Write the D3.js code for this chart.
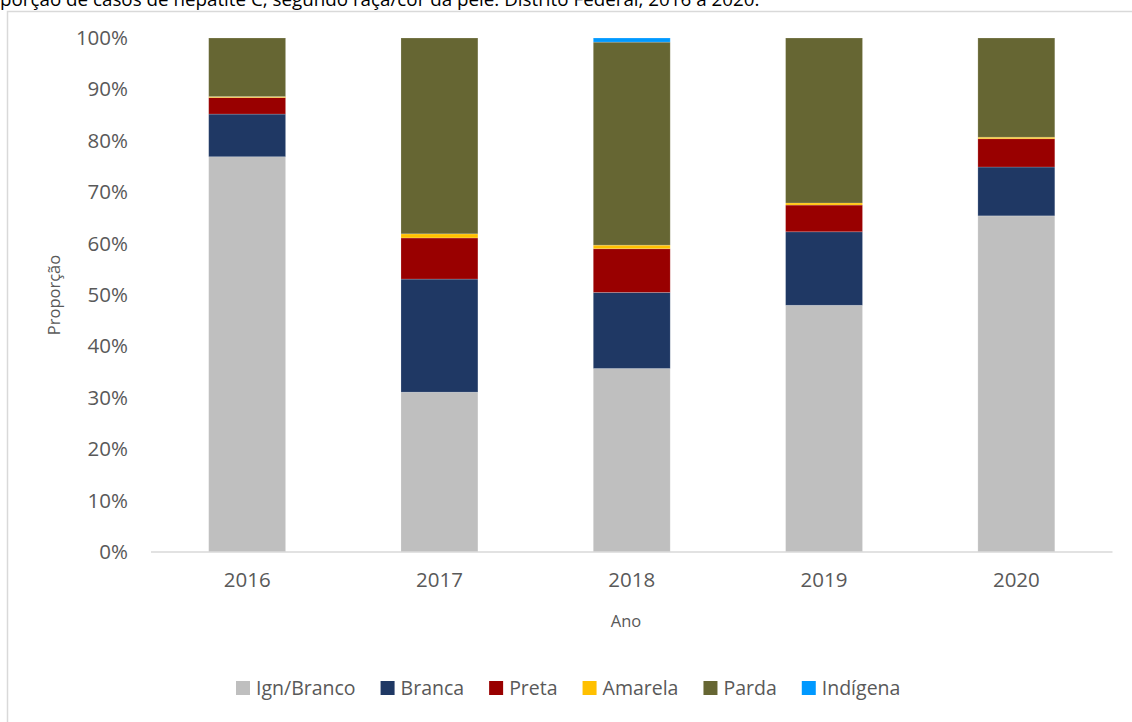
<!DOCTYPE html>
<html>
<head>
<meta charset="utf-8">
<script src="https://cdn.jsdelivr.net/npm/d3@7"></script>
<style>
  body { margin: 0; background: #fff; }
  svg { display: block; font-family: 'Open Sans', sans-serif; }
</style>
</head>
<body>
<svg id="chart" width="1132" height="722"></svg>
<script>
let years = ['2016', '2017', '2018', '2019', '2020']
let seriesNames = ['Ign/Branco', 'Branca', 'Preta', 'Amarela', 'Parda', 'Indígena']
let seriesColors = ['#bfbfbf', '#1f3864', '#990000', '#ffc000', '#666633', '#0099ff']

// percentages per year
let ignBranco = [76.9, 31.1, 35.7, 48.0, 65.4]
let branca = [8.3, 22.0, 14.8, 14.3, 9.5]
let preta = [3.2, 8.0, 8.5, 5.2, 5.5]
let amarela = [0.2, 0.8, 0.7, 0.4, 0.3]
let parda = [11.4, 38.1, 39.5, 32.1, 19.3]
let indigena = [0, 0, 0.8, 0, 0]

let yTicks = [0, 10, 20, 30, 40, 50, 60, 70, 80, 90, 100]

let allSeries = [ignBranco, branca, preta, amarela, parda, indigena]
let rows = years.map((year, i) => {
  let row = { year: year }
  seriesNames.forEach((name, j) => { row[name] = allSeries[j][i] })
  return row
})

let svg = d3.select('#chart')

// outer frame (partly out of view)
svg.append('path')
  .attr('d', 'M7.5,740 L7.5,11.5 L1150,11.5')
  .attr('fill', 'none')
  .attr('stroke', '#d9d9d9')
  .attr('stroke-width', 1.5)

// title, cropped at the top edge as in the source image
svg.append('text')
  .attr('x', 0)
  .attr('y', 6)
  .attr('font-size', 18.8)
  .attr('fill', '#000')
  .text('porção de casos de hepatite C, segundo raça/cor da pele. Distrito Federal, 2016 a 2020.')

let xScale = d3.scaleBand()
  .domain(years)
  .range([151, 1112.5])
  .paddingInner(0.6)
  .paddingOuter(0.3)

let yScale = d3.scaleLinear()
  .domain([0, 100])
  .range([552, 38])

let stacked = d3.stack().keys(seriesNames)(rows)

svg.append('g')
  .selectAll('g')
  .data(stacked)
  .enter()
  .append('g')
  .attr('fill', (s, i) => seriesColors[i])
  .selectAll('rect')
  .data((s) => s.filter((d) => d[1] - d[0] > 0))
  .enter()
  .append('rect')
  .attr('x', (d) => xScale(d.data.year))
  .attr('y', (d) => yScale(d[1]))
  .attr('width', xScale.bandwidth())
  .attr('height', (d) => yScale(d[0]) - yScale(d[1]))
  .attr('stroke', 'rgba(255,255,255,0.25)')
  .attr('stroke-width', 0.75)

// baseline
svg.append('line')
  .attr('x1', xScale.range()[0])
  .attr('x2', xScale.range()[1])
  .attr('y1', yScale(0))
  .attr('y2', yScale(0))
  .attr('stroke', '#d9d9d9')
  .attr('stroke-width', 1.5)

let yAxis = d3.axisLeft(yScale)
  .tickValues(yTicks)
  .tickFormat((d) => d + '%')
  .tickSize(0)
  .tickPadding(0)

svg.append('g')
  .attr('transform', 'translate(128,0)')
  .call(yAxis)
  .call((g) => g.select('.domain').remove())
  .selectAll('text')
  .attr('font-family', "'Open Sans', sans-serif")
  .attr('font-size', 20.5)
  .attr('fill', '#595959')

let xAxis = d3.axisBottom(xScale).tickSize(0).tickPadding(0)

svg.append('g')
  .attr('transform', 'translate(0,572)')
  .call(xAxis)
  .call((g) => g.select('.domain').remove())
  .selectAll('text')
  .attr('font-family', "'Open Sans', sans-serif")
  .attr('font-size', 20.5)
  .attr('fill', '#595959')

svg.append('text')
  .attr('x', 626)
  .attr('y', 627)
  .attr('text-anchor', 'middle')
  .attr('font-size', 16.5)
  .attr('fill', '#595959')
  .text('Ano')

svg.append('text')
  .attr('transform', 'translate(60,295) rotate(-90)')
  .attr('text-anchor', 'middle')
  .attr('font-size', 16.5)
  .attr('fill', '#595959')
  .text('Proporção')

// legend
let legend = svg.append('g')
let legendX = 236
seriesNames.forEach((name, i) => {
  legend.append('rect')
    .attr('x', legendX)
    .attr('y', 681)
    .attr('width', 14)
    .attr('height', 14)
    .attr('fill', seriesColors[i])
  let label = legend.append('text')
    .attr('x', legendX + 20)
    .attr('y', 695)
    .attr('font-size', 19.5)
    .attr('fill', '#595959')
    .text(name)
  legendX += 20 + label.node().getComputedTextLength() + 25
})
</script>
</body>
</html>
